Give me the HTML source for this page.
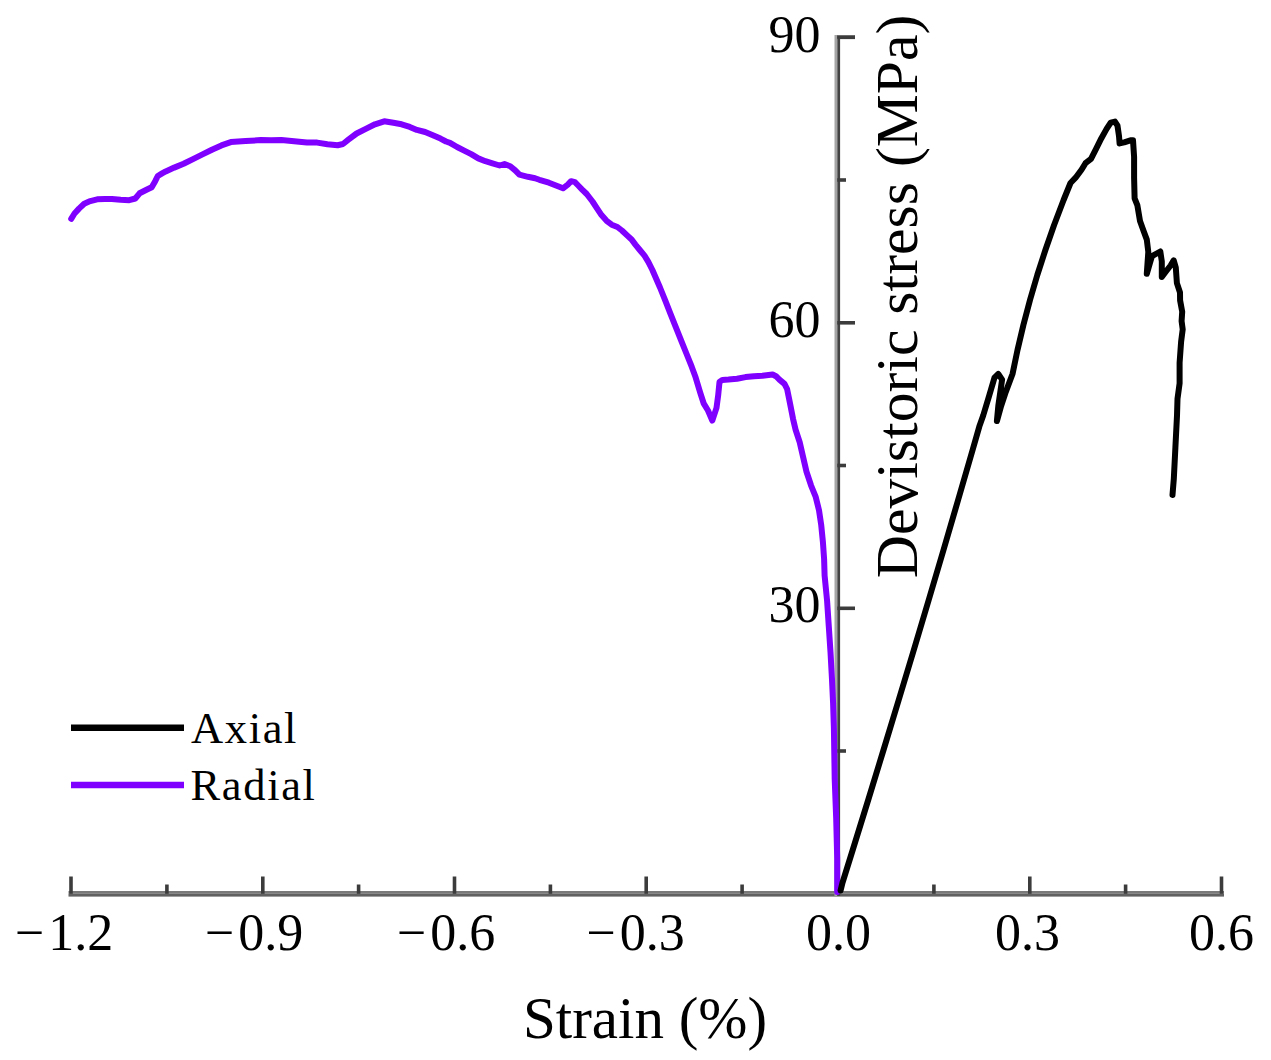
<!DOCTYPE html>
<html><head><meta charset="utf-8"><style>
html,body{margin:0;padding:0;background:#fff;overflow:hidden;}
svg{display:block;}
text{font-family:"Liberation Serif",serif;fill:#000;}
.tl{font-size:52px;}
.tk{stroke:#3c3c3c;stroke-width:3.6;}
</style></head><body>
<svg width="1271" height="1060" viewBox="0 0 1271 1060">
<rect x="0" y="0" width="1271" height="1060" fill="#fff"/>
<!-- axes -->
<rect x="68.5" y="891" width="1155.5" height="2.8" fill="#7a7a7a"/>
<rect x="68.5" y="893.8" width="1155.5" height="2.8" fill="#616161"/>
<rect x="834.5" y="35" width="2.8" height="861" fill="#a5a5a5"/>
<rect x="837.3" y="35" width="2.8" height="861" fill="#424242"/>
<rect x="837.3" y="35" width="17.5" height="2.8" fill="#3a3a3a"/>
<rect x="837.3" y="35" width="17.5" height="1.4" fill="#999"/>
<line x1="71.0" y1="876.5" x2="71.0" y2="893.8" class="tk"/>
<line x1="262.8" y1="876.5" x2="262.8" y2="893.8" class="tk"/>
<line x1="454.5" y1="876.5" x2="454.5" y2="893.8" class="tk"/>
<line x1="646.2" y1="876.5" x2="646.2" y2="893.8" class="tk"/>
<line x1="838.0" y1="876.5" x2="838.0" y2="893.8" class="tk"/>
<line x1="1029.8" y1="876.5" x2="1029.8" y2="893.8" class="tk"/>
<line x1="1221.5" y1="876.5" x2="1221.5" y2="893.8" class="tk"/>
<line x1="166.9" y1="884.5" x2="166.9" y2="893.8" class="tk"/>
<line x1="358.6" y1="884.5" x2="358.6" y2="893.8" class="tk"/>
<line x1="550.4" y1="884.5" x2="550.4" y2="893.8" class="tk"/>
<line x1="742.1" y1="884.5" x2="742.1" y2="893.8" class="tk"/>
<line x1="933.9" y1="884.5" x2="933.9" y2="893.8" class="tk"/>
<line x1="1125.6" y1="884.5" x2="1125.6" y2="893.8" class="tk"/>
<line x1="837.3" y1="608.3" x2="855" y2="608.3" class="tk"/>
<line x1="837.3" y1="322.8" x2="855" y2="322.8" class="tk"/>
<line x1="837.3" y1="37.3" x2="855" y2="37.3" class="tk"/>
<line x1="837.3" y1="751.0" x2="846" y2="751.0" class="tk"/>
<line x1="837.3" y1="465.5" x2="846" y2="465.5" class="tk"/>
<line x1="837.3" y1="180.0" x2="846" y2="180.0" class="tk"/>
<!-- curves -->
<polyline points="71.2,218.8 74.5,213.5 79.0,208.6 84.2,203.7 90.3,201.1 97.2,199.3 105.0,198.9 111.9,198.9 120.6,199.8 129.2,200.2 135.3,198.5 139.6,193.3 146.5,189.8 151.7,187.2 155.2,181.2 157.8,176.0 162.1,173.4 165.7,171.4 174.2,167.6 183.6,163.8 193.0,159.1 202.5,154.4 211.9,149.7 221.4,145.4 230.8,142.1 245.6,141.1 260.9,140.1 271.0,140.3 281.4,140.1 296.7,141.6 306.9,142.6 317.2,142.6 327.4,144.2 337.6,145.2 343.0,144.0 348.4,139.7 356.6,133.5 365.8,128.9 375.0,124.3 384.2,121.3 393.4,122.8 401.6,124.3 409.8,126.9 416.9,129.9 425.1,132.0 432.3,135.1 440.5,138.6 446.0,141.5 450.0,142.8 457.1,147.0 464.2,150.6 471.2,154.1 478.3,158.4 485.4,161.2 492.5,163.3 499.6,165.5 504.5,164.0 510.2,166.2 515.2,170.4 519.4,174.7 527.9,176.8 535.0,178.2 539.4,179.8 548.9,182.7 556.0,185.5 563.0,188.3 567.8,184.6 571.1,181.2 574.9,182.2 578.2,185.5 581.9,189.3 586.7,194.0 592.5,201.5 597.0,208.3 601.5,215.1 606.6,220.8 611.7,224.7 617.4,227.0 621.9,230.5 627.1,235.4 631.3,239.2 635.6,244.8 639.8,250.0 644.5,255.7 648.3,261.8 652.4,270.0 660.0,287.5 665.3,300.7 670.5,313.9 675.8,327.1 681.1,340.3 686.4,353.5 691.7,366.7 695.6,377.3 700.2,392.6 703.8,403.7 708.0,410.5 712.3,420.6 716.5,407.9 718.2,395.2 719.5,382.0 722.4,379.9 728.5,379.6 737.0,378.8 745.5,377.1 754.0,376.2 762.4,375.8 772.6,374.5 776.0,376.2 779.4,379.6 784.5,383.9 787.1,389.0 788.8,397.4 790.5,405.9 793.0,418.7 795.6,429.7 799.7,442.3 803.1,457.0 806.5,471.7 811.0,485.3 815.6,496.6 819.0,510.2 821.2,524.9 822.9,541.9 824.1,558.9 824.6,575.5 827.1,601.0 828.8,626.5 830.5,652.0 831.9,677.6 833.1,703.0 833.9,728.6 834.7,779.2 836.2,818.8 837.2,858.4 837.2,892.0" fill="none" stroke="#7f00ff" stroke-width="6" stroke-linejoin="round" stroke-linecap="round"/>
<polyline points="840.6,890.5 842.4,883.0 852.7,850.0 868.2,800.0 883.5,750.0 898.7,700.0 913.8,650.0 928.7,600.0 943.5,550.0 958.1,500.0 972.6,450.0 979.3,426.6 983.2,415.5 988.9,396.6 994.5,377.7 998.3,374.0 1002.1,379.6 998.3,406.0 996.9,421.1 1001.1,406.0 1005.8,391.9 1012.6,373.7 1017.5,350.0 1023.4,325.0 1030.0,300.0 1037.3,275.0 1045.4,250.0 1054.1,225.0 1063.6,200.0 1070.5,183.0 1075.6,177.7 1081.5,169.8 1085.5,163.2 1091.0,158.9 1096.2,148.6 1101.4,138.2 1106.6,128.9 1110.7,122.6 1114.9,121.6 1117.5,125.7 1119.0,136.1 1119.6,143.4 1124.2,142.3 1130.4,140.3 1133.0,140.3 1134.1,156.9 1134.1,177.6 1134.6,198.3 1137.4,205.4 1140.0,220.9 1143.7,231.3 1146.8,239.6 1148.3,252.0 1146.8,273.8 1150.4,261.4 1152.0,256.2 1160.3,251.5 1161.8,261.4 1161.8,276.9 1166.5,270.7 1170.6,265.5 1173.7,260.3 1175.8,267.6 1176.9,283.1 1180.0,292.5 1180.1,300.4 1182.2,311.8 1181.6,321.1 1182.7,329.4 1181.1,341.9 1179.6,362.6 1179.6,383.4 1177.5,398.9 1177.0,415.7 1175.4,447.4 1173.8,479.1 1172.5,494.9" fill="none" stroke="#000" stroke-width="6" stroke-linejoin="round" stroke-linecap="round"/>
<!-- legend -->
<line x1="71" y1="727.8" x2="184" y2="727.8" stroke="#000" stroke-width="6.5"/>
<line x1="71" y1="785" x2="184" y2="785" stroke="#7f00ff" stroke-width="6.5"/>
<text x="191" y="742.7" style="font-size:44.5px;letter-spacing:1.65px">Axial</text>
<text x="190.5" y="800" style="font-size:44.5px;letter-spacing:1.65px">Radial</text>
<!-- labels -->
<text x="64" y="949.5" class="tl" text-anchor="middle">−<tspan dx="4">1.2</tspan></text>
<text x="254" y="949.5" class="tl" text-anchor="middle">−<tspan dx="4">0.9</tspan></text>
<text x="446" y="949.5" class="tl" text-anchor="middle">−<tspan dx="4">0.6</tspan></text>
<text x="635.5" y="949.5" class="tl" text-anchor="middle">−<tspan dx="4">0.3</tspan></text>
<text x="838.5" y="949.5" class="tl" text-anchor="middle">0.0</text>
<text x="1027.5" y="949.5" class="tl" text-anchor="middle">0.3</text>
<text x="1221.5" y="949.5" class="tl" text-anchor="middle">0.6</text>
<text x="820.5" y="51.8" class="tl" text-anchor="end">90</text>
<text x="820.5" y="337" class="tl" text-anchor="end">60</text>
<text x="820.5" y="621.6" class="tl" text-anchor="end">30</text>
<text x="523" y="1037.8" class="tt" style="font-size:59px">Strain (%)</text>
<text transform="translate(916.7,578.2) rotate(-90)" x="0" y="0" class="tt" style="font-size:59.7px">Devistoric stress (MPa)</text>
</svg>
</body></html>
